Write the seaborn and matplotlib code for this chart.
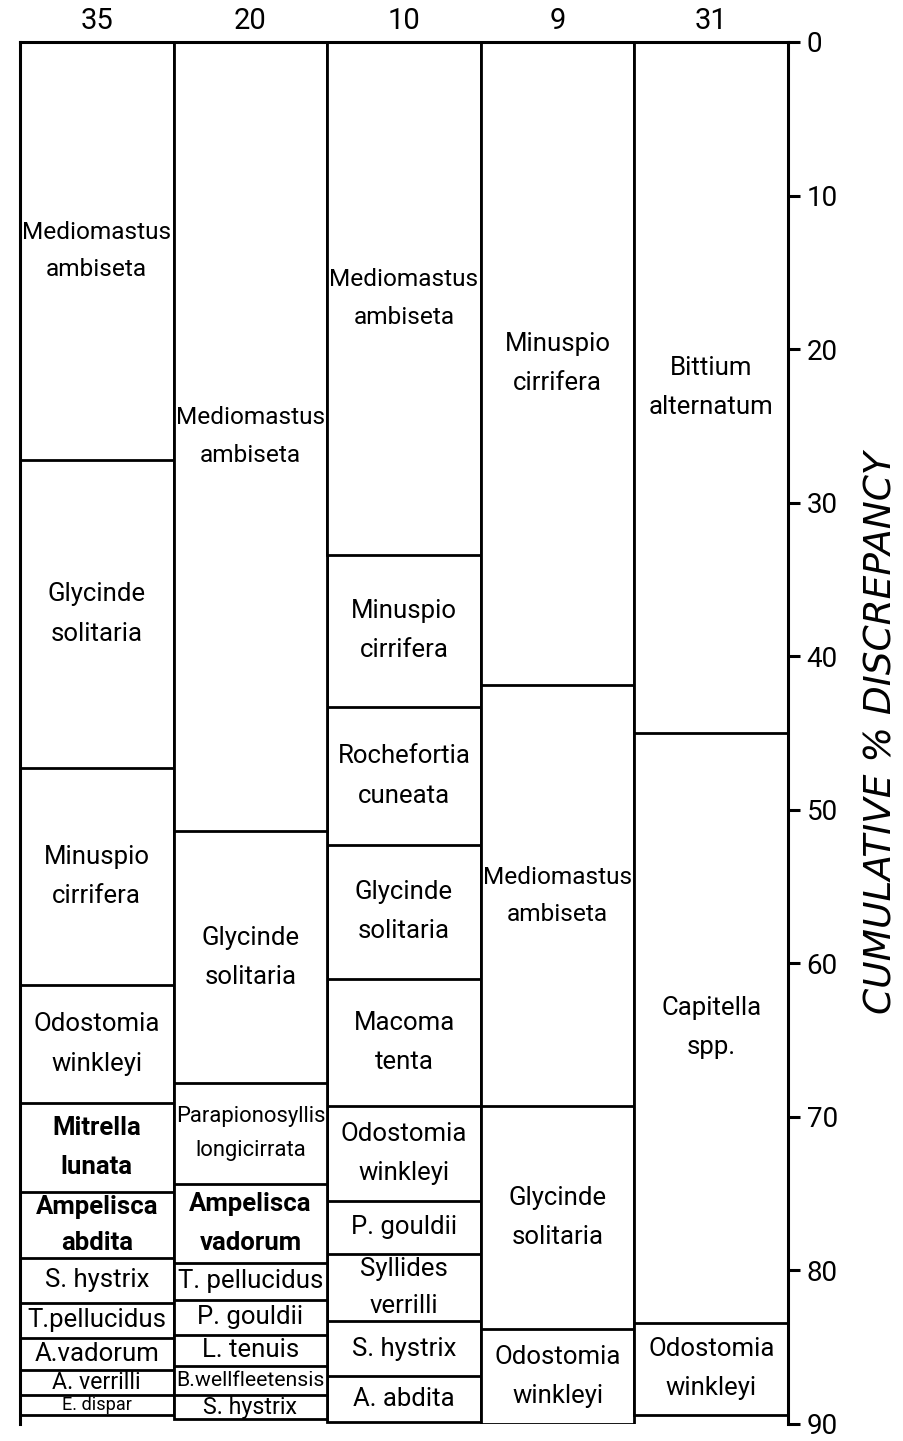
import matplotlib
matplotlib.use("Agg")
import matplotlib.pyplot as plt
import pandas as pd
import seaborn as sns

# Stations (column headers) and the species making up each one's discrepancy
stations = ["35", "20", "10", "9", "31"]

species_35 = ["Mediomastus\nambiseta", "Glycinde\nsolitaria", "Minuspio\ncirrifera",
              "Odostomia\nwinkleyi", "Mitrella\nlunata", "Ampelisca\nabdita",
              "S. hystrix", "T.pellucidus", "A.vadorum", "A. verrilli", "E. dispar"]
pct_35 = [27.2, 20.1, 14.1, 7.7, 5.8, 4.3, 2.9, 2.3, 2.1, 1.6, 1.3]

species_20 = ["Mediomastus\nambiseta", "Glycinde\nsolitaria",
              "Parapionosyllis\nlongicirrata", "Ampelisca\nvadorum", "T. pellucidus",
              "P. gouldii", "L. tenuis", "B.wellfleetensis", "S. hystrix"]
pct_20 = [51.4, 16.4, 6.6, 5.1, 2.4, 2.3, 2.0, 1.9, 1.6]

species_10 = ["Mediomastus\nambiseta", "Minuspio\ncirrifera", "Rochefortia\ncuneata",
              "Glycinde\nsolitaria", "Macoma\ntenta", "Odostomia\nwinkleyi",
              "P. gouldii", "Syllides\nverrilli", "S. hystrix", "A. abdita"]
pct_10 = [33.4, 9.9, 9.0, 8.7, 8.3, 6.2, 3.4, 4.4, 3.6, 3.0]

species_9 = ["Minuspio\ncirrifera", "Mediomastus\nambiseta", "Glycinde\nsolitaria",
             "Odostomia\nwinkleyi"]
pct_9 = [41.9, 27.4, 14.5, 6.2]

species_31 = ["Bittium\nalternatum", "Capitella\nspp.", "Odostomia\nwinkleyi"]
pct_31 = [45.0, 38.4, 6.0]

y_ticks = [0, 10, 20, 30, 40, 50, 60, 70, 80, 90]
y_title = "CUMULATIVE % DISCREPANCY"

# Names lettered with a heavier pen
heavy = {("35", "Mitrella\nlunata"), ("35", "Ampelisca\nabdita"),
         ("20", "Ampelisca\nvadorum")}

# Long table: one row per species block, with running totals per station
frames = []
for st, sp, pc in [("35", species_35, pct_35), ("20", species_20, pct_20),
                   ("10", species_10, pct_10), ("9", species_9, pct_9),
                   ("31", species_31, pct_31)]:
    f = pd.DataFrame({"station": st, "species": sp, "pct": pc})
    f["rank"] = range(len(f))
    f["cum"] = f["pct"].cumsum()
    frames.append(f)
df = pd.concat(frames, ignore_index=True)

sns.set_theme(style="white")
plt.rcParams["font.family"] = ["Roboto", "DejaVu Sans"]
plt.rcParams["text.color"] = "black"

W, H = 904, 1441
fig = plt.figure(figsize=(W / 100, H / 100), dpi=100)
ax = fig.add_axes([20 / W, 1 - 1424 / H, 768 / W, 1382 / H])

# Stacked blocks: draw running totals from the deepest layer upward so each
# shallower total covers the previous one, leaving a dividing edge
for rank in sorted(df["rank"].unique(), reverse=True):
    sub = df[df["rank"] == rank]
    sns.barplot(data=sub, x="station", y="cum", order=stations, color="white",
                saturation=1, edgecolor="black", linewidth=2.0, width=1.0,
                errorbar=None, ax=ax)

ax.set_xlim(-0.5, 4.5)
ax.set_ylim(90, 0)

for side in ["left", "right", "top"]:
    ax.spines[side].set_color("black")
    ax.spines[side].set_linewidth(2.2)
ax.spines["bottom"].set_visible(False)

ax.xaxis.tick_top()
ax.xaxis.set_label_position("top")
ax.set_xlabel("")
ax.tick_params(axis="x", length=0, pad=5, labelsize=21, colors="black")

ax.yaxis.tick_right()
ax.yaxis.set_label_position("right")
ax.set_yticks(y_ticks)
ax.set_yticklabels([str(v) for v in y_ticks])
ax.tick_params(axis="y", direction="out", length=8.5, width=2.2, pad=5,
               labelsize=20, colors="black")
ax.set_ylabel(y_title, fontsize=27, style="italic", family=["DejaVu Sans"],
              color="black")
ax.yaxis.set_label_coords((864 - 20) / 768, 0.5)

# Species names centred in their blocks, shrunk where a block is small
fig.canvas.draw()
renderer = fig.canvas.get_renderer()
col_w = ax.bbox.width / len(stations)
px_per_unit = ax.bbox.height / 90.0
for row in df.itertuples():
    xi = stations.index(row.station)
    y_mid = row.cum - row.pct / 2
    box_h = row.pct * px_per_unit
    weight = "bold" if (row.station, row.species) in heavy else "normal"
    fs, ls = 18.5, 1.8
    t = ax.text(xi, y_mid, row.species, ha="center", va="center",
                multialignment="center", fontsize=fs, linespacing=ls,
                color="black", fontweight=weight)
    bb = t.get_window_extent(renderer)
    while "\n" in row.species and bb.height > box_h - 6 and ls > 1.2:
        ls -= 0.05
        t.set_linespacing(ls)
        bb = t.get_window_extent(renderer)
    scale = min(1.0, (col_w - 4) / bb.width, (box_h - 3) / bb.height)
    if scale < 1.0:
        t.set_fontsize(fs * scale)

fig.savefig("out.png", dpi=100, facecolor="white")
